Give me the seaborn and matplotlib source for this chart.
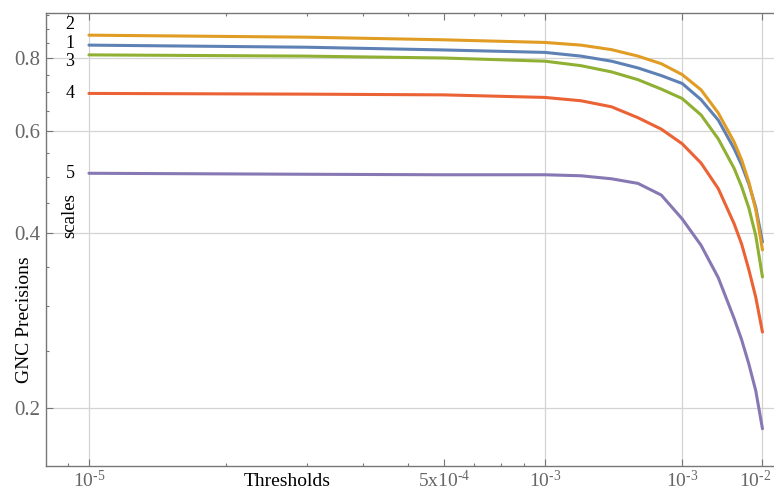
import matplotlib
matplotlib.use("Agg")
import matplotlib.pyplot as plt
import numpy as np
import pandas as pd
import seaborn as sns
from matplotlib.ticker import FixedLocator, FixedFormatter, NullFormatter
from matplotlib.transforms import ScaledTranslation

# --data (threshold, precision per scale)
thresholds = [1e-5, 3e-5, 6e-5, 1e-4, 1.2e-4, 1.4e-4, 1.6e-4, 1.8e-4, 2e-4, 2.2e-4,
              2.4e-4, 2.6e-4, 2.7e-4, 2.8e-4, 2.9e-4, 3e-4]
scale_1 = [0.843, 0.836, 0.827, 0.819, 0.807, 0.791, 0.770, 0.747, 0.724, 0.679,
           0.626, 0.559, 0.524, 0.486, 0.443, 0.386]
scale_2 = [0.877, 0.870, 0.861, 0.852, 0.843, 0.828, 0.807, 0.783, 0.750, 0.706,
           0.644, 0.574, 0.535, 0.490, 0.439, 0.374]
scale_3 = [0.811, 0.807, 0.801, 0.791, 0.777, 0.758, 0.735, 0.708, 0.682, 0.639,
           0.581, 0.517, 0.481, 0.442, 0.396, 0.336]
scale_4 = [0.696, 0.694, 0.692, 0.685, 0.676, 0.660, 0.632, 0.604, 0.570, 0.528,
           0.477, 0.415, 0.383, 0.346, 0.310, 0.270]
scale_5 = [0.507, 0.505, 0.504, 0.504, 0.502, 0.496, 0.487, 0.465, 0.423, 0.381,
           0.335, 0.285, 0.262, 0.238, 0.214, 0.184]
scale_names = ["1", "2", "3", "4", "5"]

# --axis ticks as labelled in the reference
HY = "\u2010"
x_major = [1e-5, 6e-5, 1e-4, 2e-4, 3e-4]
x_major_labels = ["$10^{" + HY + "5}$", "5x$10^{" + HY + "4}$", "$10^{" + HY + "3}$",
                  "$10^{" + HY + "3}$", "$10^{" + HY + "2}$"]
x_minor = [9e-6, 2e-5, 3e-5, 4e-5, 5e-5, 7e-5, 8e-5, 9e-5]
x_grid = [1e-5, 1e-4, 2e-4, 3e-4]
y_major = [0.2, 0.4, 0.6, 0.8]
y_major_labels = ["0.2", "0.4", "0.6", "0.8"]
y_minor = [0.25, 0.3, 0.35, 0.45, 0.5, 0.55, 0.65, 0.7, 0.75, 0.85, 0.9, 0.95]

palette = {"1": "#5E81B5", "2": "#E19C24", "3": "#8FB032", "4": "#EB6235", "5": "#8778B3"}
# label offsets (points) next to the start of each curve
label_offsets = {"1": 1.5, "2": 8.0, "3": -5.0, "4": 0.0, "5": 0.0}

series = [scale_1, scale_2, scale_3, scale_4, scale_5]
df = pd.concat([pd.DataFrame({"Thresholds": thresholds, "precision": vals, "scale": name})
                for name, vals in zip(scale_names, series)], ignore_index=True)

sns.set_theme(style="white")
plt.rcParams["font.family"] = ["Liberation Serif", "DejaVu Serif"]
plt.rcParams["mathtext.fontset"] = "custom"
plt.rcParams["mathtext.rm"] = "Liberation Serif"
plt.rcParams["mathtext.it"] = "Liberation Serif:italic"
plt.rcParams["mathtext.bf"] = "Liberation Serif:bold"

fig = plt.figure(figsize=(7.74, 4.94), dpi=100)
ax = fig.add_axes([46 / 774, 28 / 494, 728 / 774, 453 / 494])

for g in x_grid:
    ax.axvline(g, color="#d4d4d4", lw=0.9, zorder=0)
for g in y_major:
    ax.axhline(g, color="#d4d4d4", lw=0.9, zorder=0)

sns.lineplot(data=df, x="Thresholds", y="precision", hue="scale", palette=palette,
             lw=2.2, legend=False, ax=ax, zorder=3)

ax.set_xscale("log")
ax.set_yscale("log")
ax.set_xlim(8.05e-6, 3.18e-4)
ax.set_ylim(0.1587, 0.9576)

ax.xaxis.set_major_locator(FixedLocator(x_major))
ax.xaxis.set_major_formatter(FixedFormatter(x_major_labels))
ax.xaxis.set_minor_locator(FixedLocator(x_minor))
ax.xaxis.set_minor_formatter(NullFormatter())
ax.yaxis.set_major_locator(FixedLocator(y_major))
ax.yaxis.set_major_formatter(FixedFormatter(y_major_labels))
ax.yaxis.set_minor_locator(FixedLocator(y_minor))
ax.yaxis.set_minor_formatter(NullFormatter())

ax.tick_params(which="both", direction="in", top=True, right=False, left=True, bottom=True,
               color="#777777", width=0.8)
ax.tick_params(which="major", length=5)
ax.tick_params(which="minor", length=2.5)
ax.tick_params(axis="x", labelsize=14, labelcolor="#666666", pad=3)
ax.tick_params(axis="y", labelsize=15, labelcolor="#666666", pad=4)

# last x label sits against the right edge: nudge it left so it stays in the picture
last_tick = ax.xaxis.get_major_ticks()[-1]
last_tick.label1.set_transform(last_tick.label1.get_transform()
                               + ScaledTranslation(-0.07, 0, fig.dpi_scale_trans))

for side in ["left", "bottom", "top"]:
    ax.spines[side].set_color("#777777")
    ax.spines[side].set_linewidth(1.0)
ax.spines["right"].set_visible(False)

ax.set_xlabel("")
ax.set_ylabel("")
ax.text(0.331, -0.035, "Thresholds", transform=ax.transAxes, ha="center", va="center",
        fontsize=14, color="black")
ax.text(-0.029, 0.322, "GNC Precisions", transform=ax.transAxes, ha="center", va="center",
        rotation=90, fontsize=14, color="black")
ax.text(0.033, 0.552, "scales", transform=ax.transAxes, ha="center", va="center",
        rotation=90, fontsize=13.5, color="black")

for name, vals in zip(scale_names, series):
    ax.annotate(name, (thresholds[0], vals[0]), xytext=(-13.7, label_offsets[name]),
                textcoords="offset points", ha="center", va="center", fontsize=13, color="black")

fig.savefig("out.png", dpi=100)
